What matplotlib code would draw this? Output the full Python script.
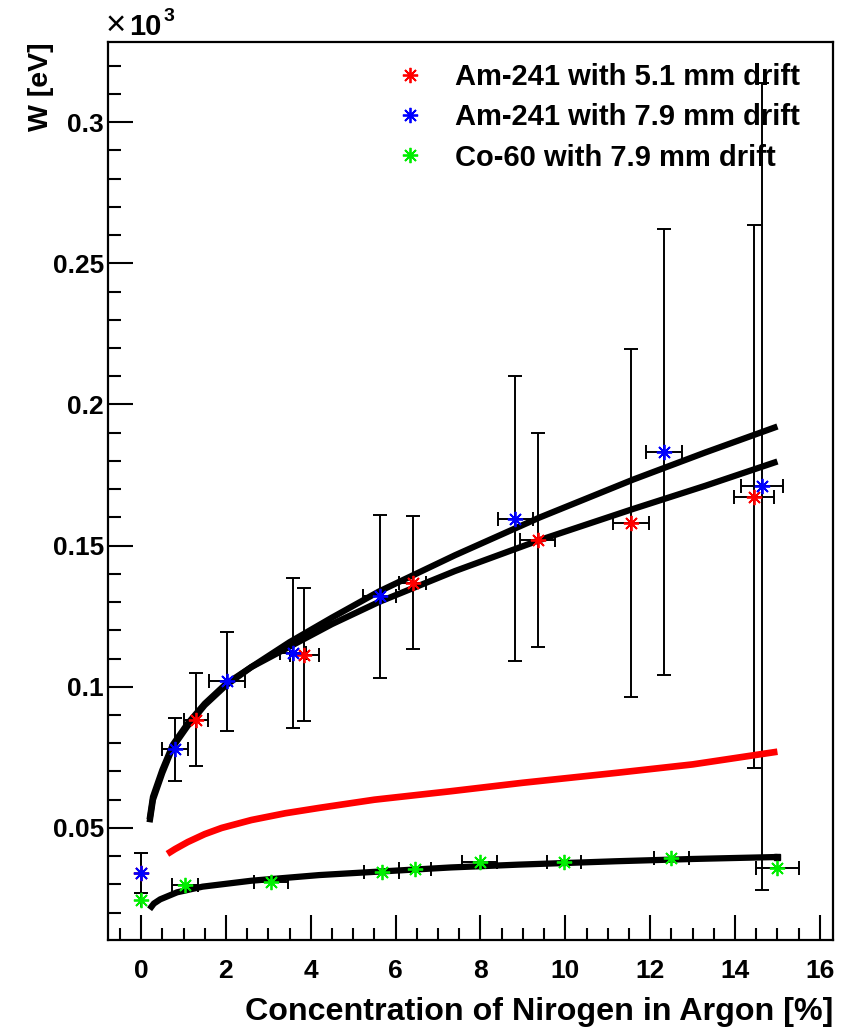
import matplotlib
matplotlib.use("Agg")
import matplotlib.pyplot as plt
from matplotlib.ticker import MultipleLocator

plt.rcParams['font.family'] = ['Liberation Sans', 'DejaVu Sans']
plt.rcParams['font.weight'] = 'bold'

# W values in units of 10^3 eV, x in % N2
am51_x = [0.0, 1.3, 3.85, 6.4, 9.35, 11.55, 14.45]
am51_y = [0.034, 0.0883, 0.1113, 0.1369, 0.152, 0.158, 0.1674]
am51_ex = [0.0, 0.28, 0.35, 0.31, 0.41, 0.42, 0.48]
am51_ey = [0.007, 0.0165, 0.0236, 0.0236, 0.038, 0.0615, 0.096]

am79_x = [0.0, 0.8, 2.02, 3.58, 5.62, 8.82, 12.33, 14.64]
am79_y = [0.034, 0.0778, 0.102, 0.112, 0.132, 0.1596, 0.183, 0.171]
am79_ex = [0.0, 0.31, 0.43, 0.3, 0.4, 0.41, 0.42, 0.49]
am79_ey = [0.007, 0.0112, 0.0175, 0.0266, 0.029, 0.0505, 0.079, 0.143]

co60_x = [0.0, 1.04, 3.06, 5.67, 6.45, 7.98, 9.98, 12.5, 15.0]
co60_y = [0.0245, 0.0298, 0.0307, 0.0344, 0.0355, 0.0378, 0.038, 0.0394, 0.0358]
co60_ex = [0.0, 0.3, 0.4, 0.41, 0.38, 0.41, 0.4, 0.42, 0.5]

# fit curves
fit79_x = [0.2, 0.28, 0.5, 0.75, 1.1, 1.5, 2.0, 2.6, 3.5, 4.5, 5.6, 7.4, 9.4, 11.6, 13.3, 15.0]
fit79_y = [0.052, 0.060, 0.0695, 0.0787, 0.0862, 0.0935, 0.1005, 0.107, 0.1158, 0.1245, 0.1337,
           0.1466, 0.160, 0.1734, 0.183, 0.1922]
fit51_x = [0.2, 0.28, 0.5, 0.75, 1.1, 1.5, 2.0, 2.6, 3.5, 4.5, 5.6, 7.4, 9.4, 11.6, 13.3, 15.0]
fit51_y = [0.053, 0.061, 0.0705, 0.0795, 0.087, 0.094, 0.101, 0.107, 0.1142, 0.1222, 0.130,
           0.141, 0.152, 0.163, 0.1712, 0.1798]
red_x = [0.62, 0.8, 1.1, 1.5, 1.9, 2.6, 3.4, 4.2, 5.5, 7.3, 9.0, 11.2, 13.0, 15.0]
red_y = [0.0408, 0.0425, 0.045, 0.0478, 0.050, 0.0528, 0.0552, 0.0571, 0.060, 0.063, 0.066,
         0.0695, 0.0725, 0.077]
fitco_x = [0.2, 0.3, 0.45, 0.85, 1.45, 2.6, 4.2, 5.8, 7.3, 8.9, 11.2, 13.0, 15.0]
fitco_y = [0.0212, 0.0232, 0.0247, 0.0272, 0.0292, 0.0313, 0.0333, 0.0347, 0.036, 0.037,
           0.0382, 0.039, 0.0397]

labels = ['Am-241 with 5.1 mm drift', 'Am-241 with 7.9 mm drift', 'Co-60 with 7.9 mm drift']

W, H = 856, 1028
fig = plt.figure(figsize=(W / 100, H / 100), dpi=100)
ax = fig.add_axes([108 / W, 1 - 940 / H, 725 / W, 898 / H])

star = (8, 2, 0)
ebkw = dict(fmt='none', ecolor='black', elinewidth=1.4, capsize=5, capthick=1.4, zorder=2)
ax.errorbar(am51_x, am51_y, xerr=am51_ex, yerr=am51_ey, **ebkw)
ax.errorbar(am79_x, am79_y, xerr=am79_ex, yerr=am79_ey, **ebkw)
ax.errorbar(co60_x, co60_y, xerr=co60_ex, **ebkw)

ax.plot(fit79_x, fit79_y, color='black', lw=4.5, solid_capstyle='butt', zorder=3)
ax.plot(fit51_x, fit51_y, color='black', lw=4.5, solid_capstyle='butt', zorder=3)
ax.plot(red_x, red_y, color='red', lw=4.8, solid_capstyle='butt', zorder=3)
ax.plot(fitco_x, fitco_y, color='black', lw=4.5, solid_capstyle='butt', zorder=3,
        marker='s', markevery=[-1], ms=5)

mkw = dict(ls='none', marker=star, ms=11, mew=1.3, zorder=4)
ax.plot(am51_x, am51_y, color='red', label=labels[0], **mkw)
ax.plot(am79_x, am79_y, color='blue', label=labels[1], **mkw)
ax.plot(co60_x, co60_y, color='#00ee00', label=labels[2], **mkw)

ax.set_xlim(-0.78, 16.31)
ax.set_ylim(0.0103, 0.3284)
ax.xaxis.set_major_locator(MultipleLocator(2))
ax.xaxis.set_minor_locator(MultipleLocator(0.5))
ax.yaxis.set_major_locator(MultipleLocator(0.05))
ax.yaxis.set_minor_locator(MultipleLocator(0.01))
ax.yaxis.set_major_formatter(plt.FuncFormatter(lambda v, p: f'{v:g}'))
ax.tick_params(which='both', direction='in', top=False, right=False, width=1.5, labelsize=19)
ax.tick_params(which='major', length=18)
ax.tick_params(which='minor', length=9)
ax.tick_params(axis='x', pad=14)
ax.tick_params(axis='y', pad=3)
for s in ax.spines.values():
    s.set_linewidth(1.6)

ax.set_xlabel('Concentration of Nirogen in Argon [%]', fontsize=23.2, fontweight='bold')
ax.xaxis.set_label_coords(1.0, -(1012 - 940) / 898)
ax.xaxis.label.set_ha('right')
ax.xaxis.label.set_va('center')
ax.set_ylabel('W [eV]', fontsize=20.5, fontweight='bold')
ax.yaxis.set_label_coords(-(108 - 41) / 725, 1.0)
ax.yaxis.label.set_ha('right')
ax.yaxis.label.set_va('center')

fig.text(106 / W, 1 - 35 / H, '×', fontsize=25, fontweight='normal', ha='left', va='baseline')
fig.text(129 / W, 1 - 35 / H, '10', fontsize=21, fontweight='bold', ha='left', va='baseline')
fig.text(164 / W, 1 - 21 / H, '3', fontsize=14, fontweight='bold', ha='left', va='baseline')

leg = ax.legend(loc='upper left', bbox_to_anchor=((395 - 108) / 725, (940 - 63) / 898),
                frameon=False, fontsize=21, handlelength=1.0, handletextpad=1.05,
                labelspacing=0.42, borderpad=0, borderaxespad=0)
leg.set_zorder(10)

fig.savefig('out.png', dpi=100)
